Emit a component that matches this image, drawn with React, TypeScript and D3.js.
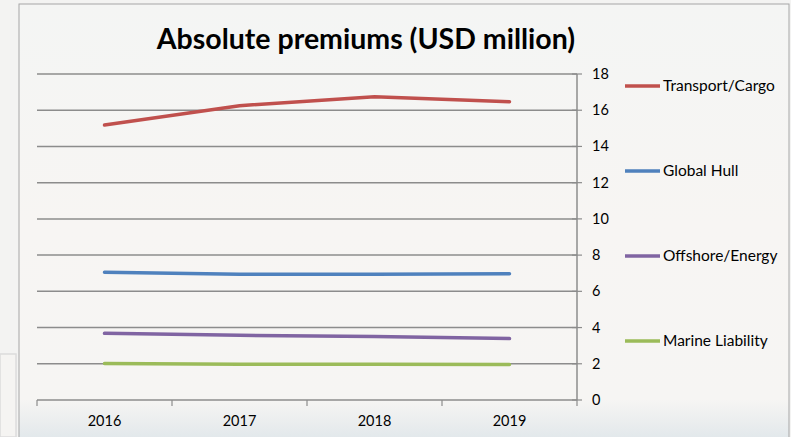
import React from "react";
import * as d3 from "d3";

const years = ["2016", "2017", "2018", "2019"];
const transportCargo = [15.18, 16.25, 16.75, 16.47];
const globalHull = [7.05, 6.94, 6.94, 6.97];
const offshoreEnergy = [3.68, 3.57, 3.5, 3.39];
const marineLiability = [2.02, 1.98, 1.97, 1.96];
const yTicks = [0, 2, 4, 6, 8, 10, 12, 14, 16, 18];

const series = [
  { name: "Transport/Cargo", values: transportCargo, color: "#c0504d" },
  { name: "Global Hull", values: globalHull, color: "#4f81bd" },
  { name: "Offshore/Energy", values: offshoreEnergy, color: "#8064a2" },
  { name: "Marine Liability", values: marineLiability, color: "#9bbb59" },
];

const W = 791, H = 437;
const font = "Lato, 'Open Sans', sans-serif";

export default function App() {
  const x = d3.scaleBand().domain(years).range([37, 577]);
  const y = d3.scaleLinear().domain([0, 18]).range([400, 74]);
  const line = d3.line<number>()
    .x((_, i) => x(years[i])! + x.bandwidth() / 2)
    .y(d => y(d));
  const legendY = d3.scalePoint().domain(series.map(s => s.name)).range([86, 341]);
  const xEdges = [...years.map(yr => x(yr)!), 577];

  return (
    <svg width={W} height={H} style={{ position: "absolute", left: 0, top: 0 }}>
      <defs>
        <linearGradient id="bg" x1="0" y1="0" x2="0" y2="1">
          <stop offset="0" stopColor="#f4f5f4" />
          <stop offset="0.5" stopColor="#f7f5f3" />
          <stop offset="0.9" stopColor="#f6f5f3" />
          <stop offset="1" stopColor="#dfe6ea" />
        </linearGradient>
      </defs>
      <rect x={0} y={0} width={W} height={H} fill="#f3f3f2" />
      <rect x={0} y={354} width={16} height={83} fill="#f5f4f2" stroke="#dcdcdc" strokeWidth={1.5} />
      <rect x={19} y={4} width={770} height={440} fill="url(#bg)" stroke="#a6a6a6" strokeWidth={1} />
      <text x={366} y={49} textAnchor="middle" fontFamily={font} fontWeight={700} fontSize={28.5} fill="#000">
        Absolute premiums (USD million)
      </text>
      {yTicks.filter(t => t > 0).map(t => (
        <line key={t} x1={37} x2={577} y1={y(t)} y2={y(t)} stroke="#8c8c8c" strokeWidth={1.5} />
      ))}
      <line x1={37} x2={577} y1={y(0)} y2={y(0)} stroke="#8c8c8c" strokeWidth={1.5} />
      <line x1={577} x2={577} y1={y(18)} y2={y(0)} stroke="#8c8c8c" strokeWidth={1.5} />
      {yTicks.map(t => (
        <g key={t}>
          <line x1={572} x2={582} y1={y(t)} y2={y(t)} stroke="#8c8c8c" strokeWidth={1.2} />
          <text x={592} y={y(t) + 5} fontFamily={font} fontSize={14.5} fill="#000">{t}</text>
        </g>
      ))}
      {xEdges.map((e, i) => (
        <line key={i} x1={e} x2={e} y1={400} y2={406} stroke="#8c8c8c" strokeWidth={1.2} />
      ))}
      {years.map(yr => (
        <text key={yr} x={x(yr)! + x.bandwidth() / 2} y={426} textAnchor="middle" fontFamily={font} fontSize={14.5} fill="#000">
          {yr}
        </text>
      ))}
      {series.map(s => (
        <path key={s.name} d={line(s.values)!} fill="none" stroke={s.color} strokeWidth={3.5} strokeLinecap="round" />
      ))}
      {series.map(s => (
        <g key={s.name} transform={`translate(0,${legendY(s.name)})`}>
          <line x1={625} x2={660} y1={0} y2={0} stroke={s.color} strokeWidth={3.5} />
          <text x={663} y={5} fontFamily={font} fontSize={15.5} fill="#000">{s.name}</text>
        </g>
      ))}
    </svg>
  );
}
